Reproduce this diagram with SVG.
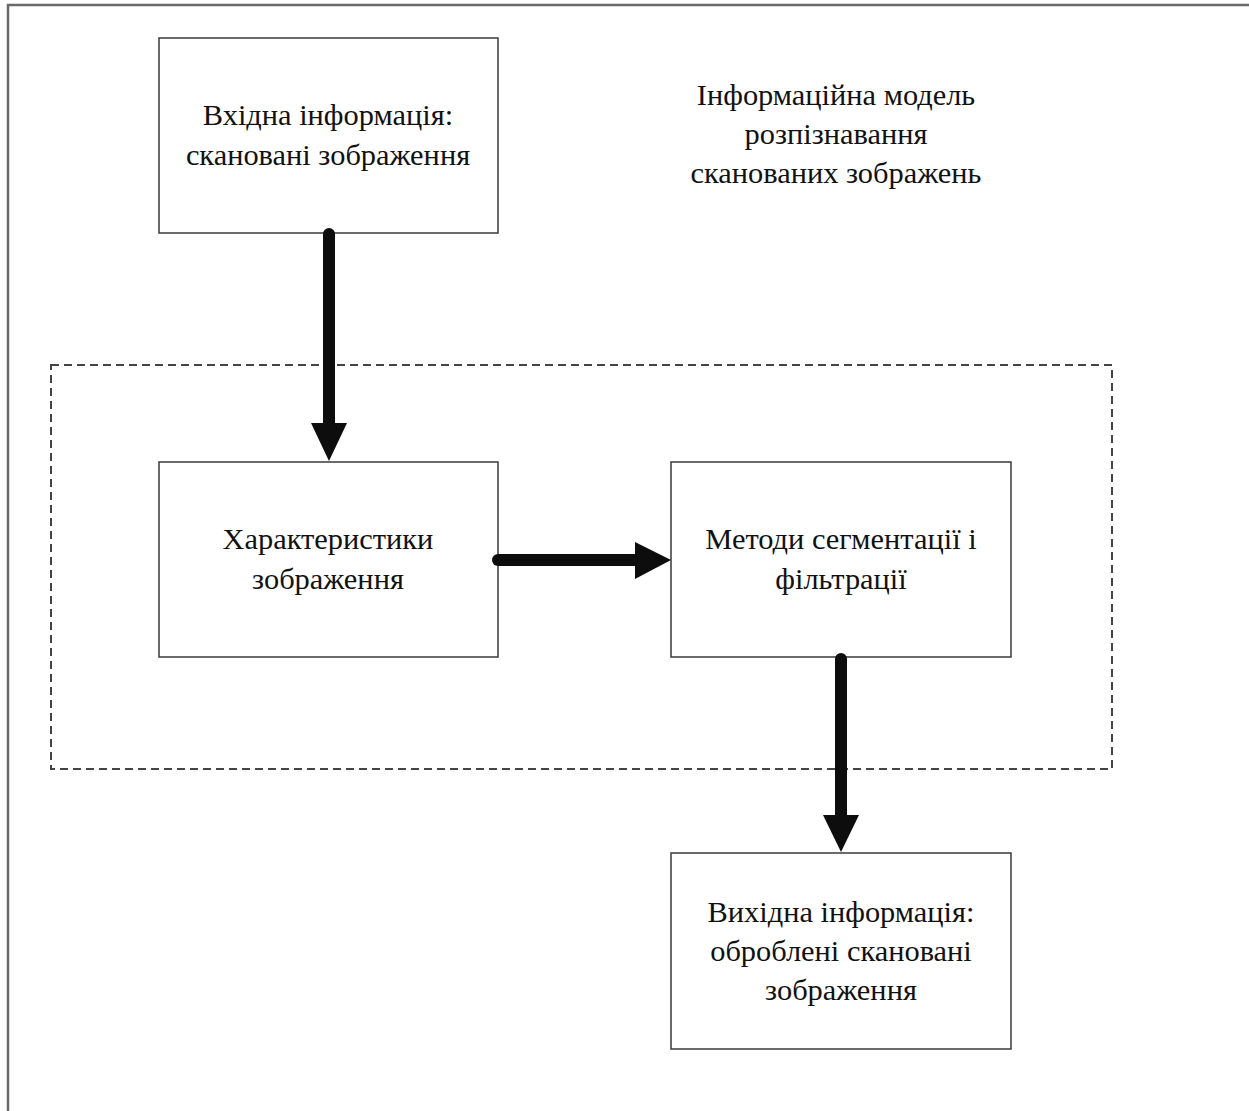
<svg xmlns="http://www.w3.org/2000/svg" width="1249" height="1111" viewBox="0 0 1249 1111">
<defs>
<style>
.box{fill:#fff;stroke:#3a3a3a;stroke-width:1.5}
.t{font-family:"Liberation Serif","Times New Roman",serif;font-size:30.4px;fill:#111;text-anchor:middle}
.arr{stroke:#0d0d0d;stroke-width:12;stroke-linecap:round;fill:none}
.head{fill:#0d0d0d}
</style>
</defs>
<rect width="1249" height="1111" fill="#fff"/>
<path d="M8 1111 V5 H1249" fill="none" stroke="#6a6a6a" stroke-width="2.5"/>
<rect id="group" x="51" y="365" width="1061" height="404" fill="none" stroke="#444" stroke-width="2" stroke-dasharray="8,5"/>
<g id="title">
<text class="t" x="836" y="105">Інформаційна модель</text>
<text class="t" x="836" y="144">розпізнавання</text>
<text class="t" x="836" y="183">сканованих зображень</text>
</g>
<g id="input">
<rect class="box" x="159" y="38" width="339" height="195"/>
<text class="t" x="328" y="125">Вхідна інформація:</text>
<text class="t" x="328" y="165">скановані зображення</text>
</g>
<g id="features">
<rect class="box" x="159" y="462" width="339" height="195"/>
<text class="t" x="328" y="549">Характеристики</text>
<text class="t" x="328" y="589">зображення</text>
</g>
<g id="methods">
<rect class="box" x="671" y="462" width="340" height="195"/>
<text class="t" x="841" y="549">Методи сегментації і</text>
<text class="t" x="841" y="589">фільтрації</text>
</g>
<g id="output">
<rect class="box" x="671" y="853" width="340" height="196"/>
<text class="t" x="841" y="922">Вихідна інформація:</text>
<text class="t" x="841" y="961">оброблені скановані</text>
<text class="t" x="841" y="1000">зображення</text>
</g>
<g id="connectors">
<line class="arr" x1="329" y1="234" x2="329" y2="428"/>
<polygon class="head" points="311,423 347,423 329,461"/>
<line class="arr" x1="498" y1="560" x2="640" y2="560"/>
<polygon class="head" points="635,542 635,579 671,560"/>
<line class="arr" x1="841" y1="659" x2="841" y2="820"/>
<polygon class="head" points="823,815 859,815 841,852"/>
</g>
</svg>
